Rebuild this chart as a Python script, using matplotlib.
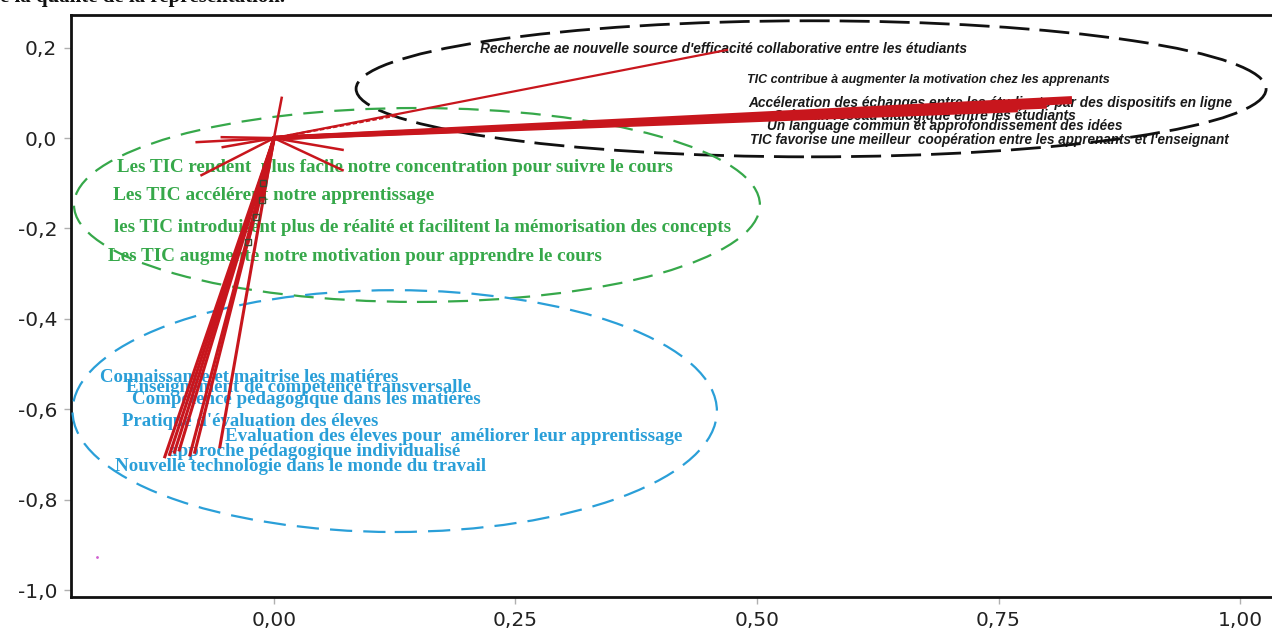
import numpy as np
import matplotlib.pyplot as plt
from matplotlib.patches import Ellipse
from matplotlib.ticker import FuncFormatter

# groupe 1 (noir) : collaboration / échanges
noir_labels = [
    "Recherche ae nouvelle source d'efficacité collaborative entre les étudiants",
    "TIC contribue à augmenter la motivation chez les apprenants",
    "Accéleration des échanges entre les étudiants par des dispositifs en ligne",
    "Créer un réseau dialogique entre les étudiants",
    "Un language commun et approfondissement des idées",
    "TIC favorise une meilleur  coopération entre les apprenants et l'enseignant",
]
noir_x = [0.469, 0.127, 0.826, 0.826, 0.800, 0.770]
noir_y = [0.195, 0.050, 0.088, 0.080, 0.070, 0.062]

# groupe 2 (vert) : apprentissage
vert_labels = [
    "Les TIC rendent  plus facile notre concentration pour suivre le cours",
    "Les TIC accélérent notre apprentissage",
    "les TIC introduisent plus de réalité et facilitent la mémorisation des concepts",
    "Les TIC augmente notre motivation pour apprendre le cours",
]
vert_x = [-0.011, -0.012, -0.019, -0.027]
vert_y = [-0.100, -0.137, -0.174, -0.230]

# groupe 3 (bleu) : pédagogie
bleu_labels = [
    "Connaissance et maitrise les matiéres",
    "Enseignement de compétence transversalle",
    "Compétence pédagogique dans les matiéres",
    "Pratique d'évaluation des éleves",
    "Evaluation des éleves pour  améliorer leur apprentissage",
    "approche pédagogique individualisé",
    "Nouvelle technologie dans le monde du travail",
]
bleu_x = [-0.113, -0.108, -0.103, -0.098, -0.056, -0.087, -0.082]
bleu_y = [-0.705, -0.700, -0.695, -0.690, -0.683, -0.701, -0.695]

# autres variables proches de l'origine
autres_x = [-0.080, -0.054, -0.053, -0.075, 0.071, 0.071, 0.008]
autres_y = [-0.009, 0.002, -0.020, -0.082, -0.071, -0.026, 0.089]

# emplacement des étiquettes (début, fin, hauteur)
noir_lx0 = [0.213, 0.490, 0.491, 0.517, 0.510, 0.493]
noir_lx1 = [0.715, 0.863, 0.990, 0.829, 0.878, 0.993]
noir_ly = [0.197, 0.129, 0.078, 0.049, 0.027, -0.004]
vert_lx0 = [-0.163, -0.167, -0.166, -0.172]
vert_lx1 = [0.413, 0.164, 0.474, 0.341]
vert_ly = [-0.066, -0.126, -0.197, -0.263]
bleu_lx0 = [-0.180, -0.153, -0.147, -0.157, -0.051, -0.110, -0.165]
bleu_lx1 = [0.129, 0.202, 0.214, 0.110, 0.423, 0.193, 0.220]
bleu_ly = [-0.529, -0.551, -0.579, -0.626, -0.661, -0.694, -0.727]

ROUGE = '#c8161d'
VERT = '#36a84a'
BLEU = '#2a9fd8'

fig = plt.figure(figsize=(12.72, 6.37), dpi=100)
ax = fig.add_axes([71/1272, 40/637, 1201/1272, 582/637])
ax.set_xlim(-0.2101, 1.0331)
ax.set_ylim(-1.0153, 0.2723)

# vecteurs
for x, y in zip(noir_x[2:], noir_y[2:]):
    ax.plot([0, x], [0, y], color=ROUGE, lw=3.2, zorder=4, solid_capstyle='butt')
ax.plot([0, noir_x[0]], [0, noir_y[0]], color=ROUGE, lw=1.6, zorder=4)
ax.plot([0, noir_x[1]], [0, noir_y[1]], color=ROUGE, lw=1.6, ls=(0, (2, 1)), zorder=4)
for x, y in zip(bleu_x, bleu_y):
    ax.plot([0, x], [0, y], color=ROUGE, lw=2.2, zorder=4)
for x, y in zip(vert_x, vert_y):
    ax.plot([0, x], [0, y], color=ROUGE, lw=2.5, zorder=4)
ax.plot(vert_x, vert_y, 's', ms=5, mfc='none', mec='#3a4a30', mew=1.0, zorder=5)
for x, y in zip(autres_x, autres_y):
    ax.plot([0, x], [0, y], color=ROUGE, lw=1.8, zorder=4)
ax.plot([-0.183], [-0.927], '.', ms=2, color='#d060d0')

# cercles de regroupement
ax.add_patch(Ellipse((0.556, 0.109), 0.942, 0.301, fill=False, ec='#111111',
                     lw=2.0, ls=(0, (10.8, 3.6)), zorder=3))
ax.add_patch(Ellipse((0.148, -0.148), 0.710, 0.429, fill=False, ec=VERT,
                     lw=1.6, ls=(0, (9, 5)), zorder=3))
ax.add_patch(Ellipse((0.125, -0.604), 0.667, 0.535, fill=False, ec=BLEU,
                     lw=1.6, ls=(0, (10, 5)), zorder=3))

# étiquettes
texts = []
groups = [
    (noir_labels, noir_lx0, noir_lx1, noir_ly,
     dict(family='Liberation Sans', style='italic', weight='bold', color='#1a1a1a')),
    (vert_labels, vert_lx0, vert_lx1, vert_ly,
     dict(family='Liberation Serif', weight='bold', color=VERT)),
    (bleu_labels, bleu_lx0, bleu_lx1, bleu_ly,
     dict(family='Liberation Serif', weight='bold', color=BLEU)),
]
for labels, lx0, lx1, ly, kw in groups:
    for s, x0, x1, y in zip(labels, lx0, lx1, ly):
        t = ax.text(x0, y, s, ha='left', va='center', fontsize=10, zorder=2, **kw)
        w = ax.transData.transform((x1, y))[0] - ax.transData.transform((x0, y))[0]
        texts.append((t, w))

for _ in range(2):
    fig.canvas.draw()
    r = fig.canvas.get_renderer()
    for t, w in texts:
        bw = t.get_window_extent(r).width
        t.set_fontsize(t.get_fontsize() * w / bw)

# titre coupé en haut
fig.text(0.0, 1 - 2/637, "e la qualité de la représentation.", family='Liberation Serif',
         weight='bold', fontsize=15, va='baseline', ha='left', color='#111111')

# axes
ax.set_xticks([0, 0.25, 0.5, 0.75, 1.0])
ax.set_yticks([0.2, 0.0, -0.2, -0.4, -0.6, -0.8, -1.0])
ax.xaxis.set_major_formatter(FuncFormatter(lambda v, p: f"{v:.2f}".replace('.', ',')))
ax.yaxis.set_major_formatter(FuncFormatter(lambda v, p: f"{v:.1f}".replace('.', ',').replace('-0,0', '0,0')))
ax.tick_params(direction='out', length=5, width=1, color='#b0b0b0', labelsize=14.5,
               labelcolor='#222222', pad=5)
for side in ['left', 'top', 'bottom']:
    ax.spines[side].set_linewidth(2.0)
    ax.spines[side].set_color('#111111')
ax.spines['right'].set_visible(False)

fig.savefig('out.png', dpi=100)
